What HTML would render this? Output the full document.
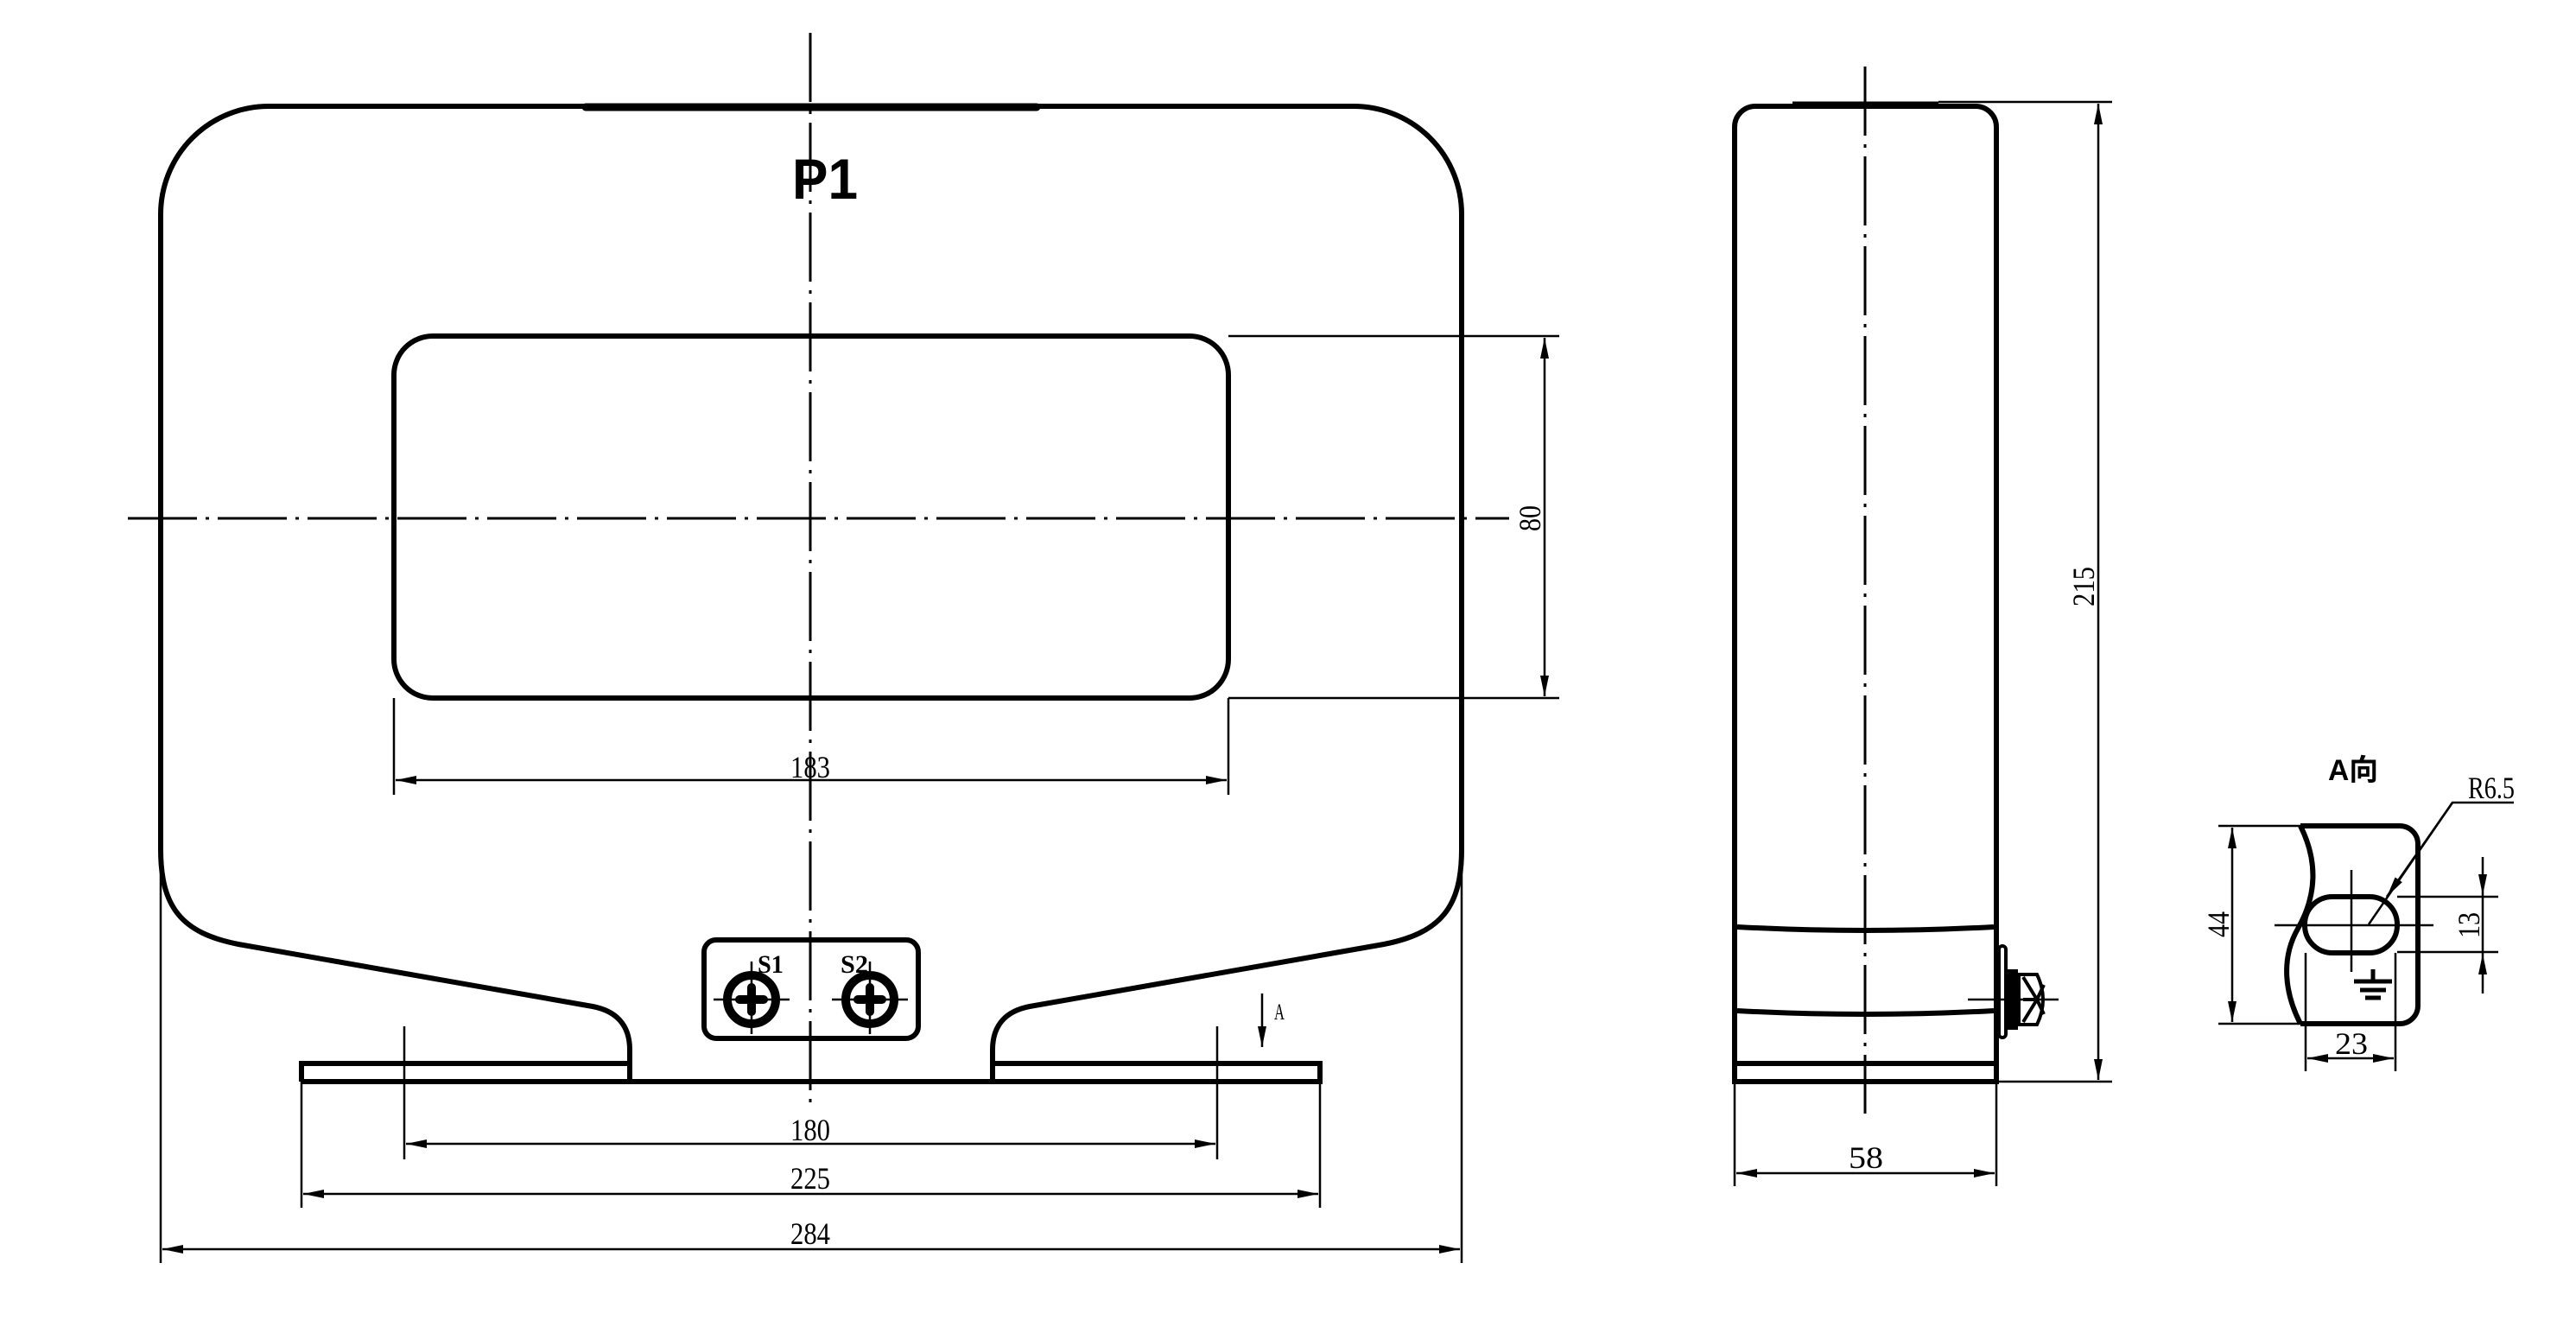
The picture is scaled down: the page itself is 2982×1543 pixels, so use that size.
<!DOCTYPE html>
<html><head><meta charset="utf-8"><style>
html,body{margin:0;padding:0;background:#fff;width:2982px;height:1543px;overflow:hidden}
svg{display:block}
text{font-family:"Liberation Serif",serif;fill:#000}
</style></head><body>
<svg width="2982" height="1543" viewBox="0 0 2982 1543" xmlns="http://www.w3.org/2000/svg">
<defs>
<marker id="ar" markerUnits="userSpaceOnUse" markerWidth="30" markerHeight="14" refX="0" refY="0" viewBox="-26 -7 28 14" orient="auto-start-reverse">
<path d="M0,0 L-24,-5 L-24,5 Z" fill="#000"/>
</marker>
</defs>
<g fill="none" stroke="#000" stroke-linecap="butt">
<!-- centre lines -->
<g stroke-width="3" stroke-dasharray="80,10,4,10">
<line x1="938" y1="38" x2="938" y2="1277"/>
<line x1="148" y1="600" x2="1747" y2="600"/>
<line x1="2159" y1="77" x2="2159" y2="1289"/>
</g>
<!-- main outline -->
<g stroke-width="6">
<path d="M186,983 L186,248 A125,125 0 0 1 311,123 L1567,123 A125,125 0 0 1 1692,248 L1692,983 C1692,1050 1668,1080 1602,1093 L1192,1165 C1166,1170 1149,1185 1149,1215 L1149,1252 L729,1252 L729,1215 C729,1185 712,1170 686,1165 L276,1093 C210,1080 186,1050 186,983 Z"/>
<path d="M678,124 L1200,124" stroke-width="9" stroke-linecap="round"/>
<rect x="456" y="389" width="966" height="419" rx="45"/>
<path d="M349,1252 L349,1231 L729,1231 M1149,1231 L1528,1231 L1528,1252 L349,1252"/>
<rect x="815" y="1088" width="248" height="114" rx="14"/>
<circle cx="870" cy="1157" r="28" stroke-width="10"/>
<circle cx="1007" cy="1157" r="28" stroke-width="10"/>
</g>
<g stroke-width="10" stroke-linecap="round">
<path d="M856,1157 H884 M870,1143 V1171"/>
<path d="M993,1157 H1021 M1007,1143 V1171"/>
</g>
<g stroke-width="2.5">
<path d="M826,1157 H914 M870,1113 V1197 M963,1157 H1051 M1007,1113 V1197"/>
</g>
<!-- dims main -->
<g stroke-width="2.5">
<path d="M1422,389 H1805 M1422,808 H1805"/>
<line x1="1788" y1="391" x2="1788" y2="806" marker-start="url(#ar)" marker-end="url(#ar)"/>
<path d="M456,808 V920 M1422,808 V920"/>
<line x1="458" y1="903" x2="1420" y2="903" marker-start="url(#ar)" marker-end="url(#ar)"/>
<path d="M468,1188 V1342 M1409,1188 V1342"/>
<line x1="470" y1="1324" x2="1407" y2="1324" marker-start="url(#ar)" marker-end="url(#ar)"/>
<path d="M349,1252 V1398 M1528,1252 V1398"/>
<line x1="351" y1="1382" x2="1526" y2="1382" marker-start="url(#ar)" marker-end="url(#ar)"/>
<path d="M186,1000 V1462 M1692,1000 V1462"/>
<line x1="188" y1="1446" x2="1690" y2="1446" marker-start="url(#ar)" marker-end="url(#ar)"/>
<line x1="1461" y1="1150" x2="1461" y2="1212" marker-end="url(#ar)"/>
</g>
<!-- side view -->
<g stroke-width="6">
<path d="M2008,1252 L2008,147 A24,24 0 0 1 2032,123 L2287,123 A24,24 0 0 1 2311,147 L2311,1252 Z"/>
<path d="M2075,120 H2244" stroke-width="5"/>
<path d="M2011,1073 Q2159,1081 2308,1073"/>
<path d="M2011,1170 Q2159,1178 2308,1170"/>
<path d="M2011,1231 H2308"/>
</g>
<g stroke-width="4">
<rect x="2314" y="1095" width="8" height="106" rx="4"/>
<rect x="2322" y="1124" width="12" height="66" fill="#000"/>
<path d="M2337,1128 L2358,1128 Q2372,1157 2358,1186 L2337,1186 Z"/>
<path d="M2358,1157 L2342,1131 M2358,1157 L2342,1183 M2358,1157 L2366,1140 M2358,1157 L2366,1174 M2358,1157 L2342,1157"/>
</g>
<g stroke-width="2.5">
<path d="M2278,1157 H2383"/>
<path d="M2244,118 H2445 M2311,1252 H2445"/>
<line x1="2429" y1="120" x2="2429" y2="1250" marker-start="url(#ar)" marker-end="url(#ar)"/>
<path d="M2008,1252 V1373 M2311,1252 V1373"/>
<line x1="2010" y1="1358" x2="2309" y2="1358" marker-start="url(#ar)" marker-end="url(#ar)"/>
</g>
<!-- A view -->
<g stroke-width="6">
<path d="M2663,956 L2778,956 A21,21 0 0 1 2799,977 L2799,1164 A21,21 0 0 1 2778,1185 L2663,1185"/>
<path d="M2663,956 C2685,1000 2680,1040 2660,1075 C2640,1110 2645,1150 2663,1185"/>
<rect x="2668" y="1038" width="107" height="65" rx="32"/>
</g>
<g stroke-width="5">
<path d="M2747,1122 V1136 M2725,1136 H2769 M2732,1146 H2762 M2738,1155 H2756"/>
</g>
<g stroke-width="2.5">
<path d="M2568,956 H2663 M2568,1185 H2663"/>
<line x1="2584" y1="958" x2="2584" y2="1183" marker-start="url(#ar)" marker-end="url(#ar)"/>
<path d="M2633,1071 H2817 M2722,1007 V1125"/>
<path d="M2775,1038 H2892 M2775,1102 H2892"/>
<line x1="2874" y1="992" x2="2874" y2="1036" marker-end="url(#ar)"/>
<line x1="2874" y1="1150" x2="2874" y2="1104" marker-end="url(#ar)"/>
<path d="M2874,1036 V1104"/>
<path d="M2669,1103 V1240 M2773,1103 V1240"/>
<line x1="2671" y1="1225" x2="2771" y2="1225" marker-start="url(#ar)" marker-end="url(#ar)"/>
<path d="M2910,929 H2839 L2742,1070"/>
<line x1="2839" y1="929" x2="2763" y2="1038" marker-end="url(#ar)"/>
</g>
</g>
<!-- text -->
<text x="955" y="230" font-family="Liberation Sans,sans-serif" font-weight="bold" font-size="66" text-anchor="middle" textLength="76" lengthAdjust="spacingAndGlyphs" style="font-family:'Liberation Sans',sans-serif">P1</text>
<g style="font-family:'Liberation Sans',sans-serif" font-weight="bold" font-size="30">
<text x="877" y="1126" textLength="30" lengthAdjust="spacingAndGlyphs">S1</text>
<text x="973" y="1126" textLength="32" lengthAdjust="spacingAndGlyphs">S2</text>
</g>
<g font-size="36" text-anchor="middle">
<text x="938" y="900" textLength="46" lengthAdjust="spacingAndGlyphs">183</text>
<text x="938" y="1320" textLength="46" lengthAdjust="spacingAndGlyphs">180</text>
<text x="938" y="1376" textLength="46" lengthAdjust="spacingAndGlyphs">225</text>
<text x="938" y="1440" textLength="46" lengthAdjust="spacingAndGlyphs">284</text>
<text x="2160" y="1352" textLength="40" lengthAdjust="spacingAndGlyphs">58</text>
<text x="2722" y="1220" textLength="38" lengthAdjust="spacingAndGlyphs">23</text>
<text transform="translate(1783,600) rotate(-90)" textLength="30" lengthAdjust="spacingAndGlyphs">80</text>
<text transform="translate(2424,679) rotate(-90)" textLength="46" lengthAdjust="spacingAndGlyphs">215</text>
<text transform="translate(2580,1070) rotate(-90)" textLength="30" lengthAdjust="spacingAndGlyphs">44</text>
<text transform="translate(2870,1071) rotate(-90)" textLength="30" lengthAdjust="spacingAndGlyphs">13</text>
</g>
<text x="1475" y="1180" font-size="26" textLength="12" lengthAdjust="spacingAndGlyphs">A</text>
<text x="2857" y="924" font-size="36" textLength="54" lengthAdjust="spacingAndGlyphs">R6.5</text>
<text x="2695" y="903" font-size="34" font-weight="bold" textLength="58" lengthAdjust="spacingAndGlyphs" style="font-family:'Liberation Sans','Noto Sans CJK SC',sans-serif">A向</text>
</svg>
</body></html>
